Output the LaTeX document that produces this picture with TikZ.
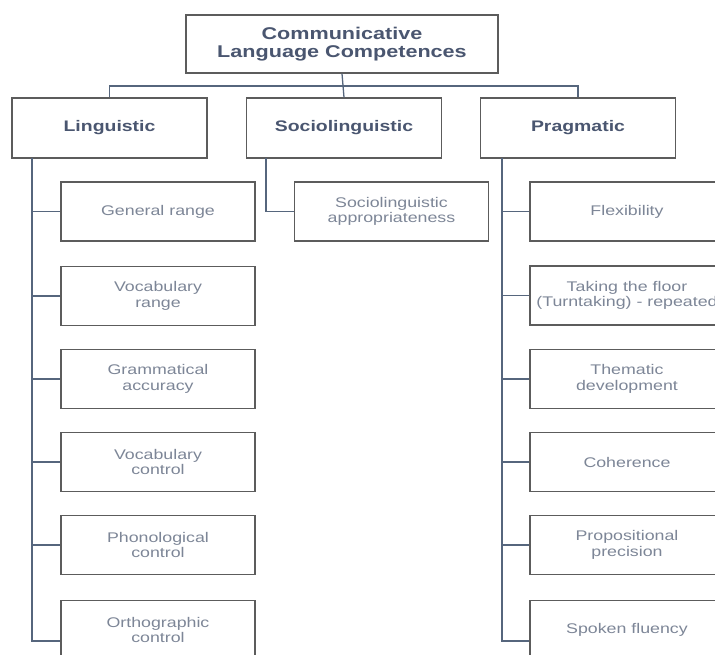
\documentclass[tikz,border=0pt]{standalone}
\usepackage{fontspec}
\setmainfont[FakeStretch=1.27]{Liberation Sans}
\definecolor{titlecol}{HTML}{4A5670}
\definecolor{childcol}{HTML}{7D8697}
\definecolor{boxcol}{HTML}{5C5C5C}
\definecolor{linecol}{HTML}{56667D}
\begin{document}
\begin{tikzpicture}[x=1pt,y=-1pt,
  box/.style={draw=boxcol,line width=1.3pt,fill=white,inner sep=0pt,align=center},
  topbox/.style={box,minimum width=312pt,minimum height=58pt,text=titlecol,font=\fontsize{17}{18}\selectfont\bfseries},
  catbox/.style={box,minimum width=195pt,minimum height=60pt,text=titlecol,font=\fontsize{15.3}{17}\selectfont\bfseries},
  leafbox/.style={box,minimum width=194pt,minimum height=59pt,text=childcol,font=\fontsize{14}{15.5}\selectfont},
  conn/.style={draw=linecol,line width=1.3pt}]
\clip (0,0) rectangle (715,654);
\fill[white] (0,0) rectangle (715,654);

% nodes
\node[topbox] (top) at (342,44) {Communicative\\Language Competences};
\node[catbox] (ling) at (109.5,128) {Linguistic};
\node[catbox] (socio) at (344,128) {Sociolinguistic};
\node[catbox] (prag) at (578,128) {Pragmatic};

\node[leafbox] (l1) at (158,211.5) {General range};
\node[leafbox] (l2) at (158,296) {Vocabulary\\range};
\node[leafbox] (l3) at (158,379) {Grammatical\\accuracy};
\node[leafbox] (l4) at (158,462) {Vocabulary\\control};
\node[leafbox] (l5) at (158,545) {Phonological\\control};
\node[leafbox] (l6) at (158,630) {Orthographic\\control};

\node[leafbox] (s1) at (391.5,211.5) {Sociolinguistic\\appropriateness};

\node[leafbox] (p1) at (627,211.5) {Flexibility};
\node[leafbox] (p2) at (627,295.5) {Taking the floor\\(Turntaking) - repeated};
\node[leafbox] (p3) at (627,379) {Thematic\\development};
\node[leafbox] (p4) at (627,462) {Coherence};
\node[leafbox] (p5) at (627,545) {Propositional\\precision};
\node[leafbox] (p6) at (627,630) {Spoken fluency};

% bus
\coordinate (bus) at (344,86);
\draw[conn] (top.south) -- (socio.north);
\draw[conn] (ling.north) -- (ling.north |- bus) -- (prag.north |- bus) -- (prag.north);

% spines
\coordinate (lsp) at (32,158);
\coordinate (ssp) at (266,158);
\coordinate (psp) at (502,158);
\foreach \c in {l1,l2,l3,l4,l5} {\draw[conn] (lsp) |- (\c.west);}
\draw[conn] (lsp) |- ([yshift=-11pt]l6.west);
\draw[conn] (ssp) |- (s1.west);
\foreach \c in {p1,p2,p3,p4,p5} {\draw[conn] (psp) |- (\c.west);}
\draw[conn] (psp) |- ([yshift=-11pt]p6.west);
\end{tikzpicture}
\end{document}
